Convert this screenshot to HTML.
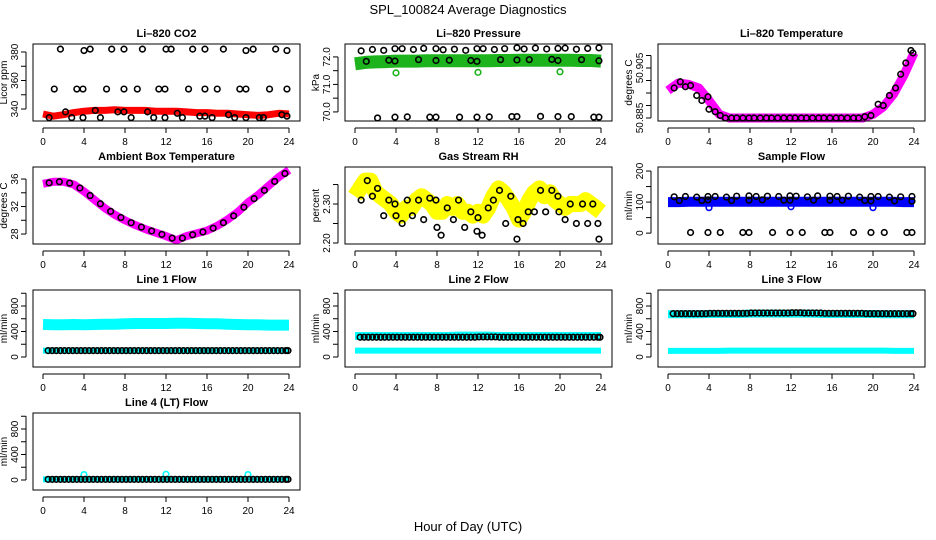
<!DOCTYPE html>
<html><head><meta charset="utf-8">
<style>
body{margin:0;background:#fff;}
svg{display:block;font-family:"Liberation Sans",sans-serif;}
</style></head>
<body>
<svg id="chart" width="936" height="540" viewBox="0 0 936 540">
<text x="468" y="14" text-anchor="middle" font-size="13">SPL_100824  Average Diagnostics</text>
<text x="468" y="531" text-anchor="middle" font-size="13">Hour of Day (UTC)</text>
</svg>
<script>
// ---- data ----
const xTicks = [0,4,8,12,16,20,24];
const hours = [0,1,2,3,4,5,6,7,8,9,10,11,12,13,14,15,16,17,18,19,20,21,22,23,24];
const halfHours = [0,0.5,1,1.5,2,2.5,3,3.5,4,4.5,5,5.5,6,6.5,7,7.5,8,8.5,9,9.5,10,10.5,11,11.5,12,12.5,13,13.5,14,14.5,15,15.5,16,16.5,17,17.5,18,18.5,19,19.5,20,20.5,21,21.5,22,22.5,23,23.5,24];
const flowT = [0.5,0.9,1.3,1.7,2.1,2.5,2.9,3.3,3.7,4.1,4.5,4.9,5.3,5.7,6.1,6.5,6.9,7.3,7.7,8.1,8.5,8.9,9.3,9.7,10.1,10.5,10.9,11.3,11.7,12.1,12.5,12.9,13.3,13.7,14.1,14.5,14.9,15.3,15.7,16.1,16.5,16.9,17.3,17.7,18.1,18.5,18.9,19.3,19.7,20.1,20.5,20.9,21.3,21.7,22.1,22.5,22.9,23.3,23.7,23.9];

const co2Band = [336.5,335,336,337.5,338.5,339,339,339.5,339,339,339,338.5,338.5,338.5,338,337.5,337.5,337,337,336.5,336,335.5,336,337,336.5];
const co2BlkX = [1.7,4,4.6,6.7,7.9,9.7,12,12.5,14.6,15.8,17.6,19.8,20.5,22.7,23.8,1.1,3.3,3.9,6.2,7.9,9.2,11.3,11.9,14.2,15.8,17,19.2,19.8,22.1,23.8,0.6,2.2,2.8,3.9,5.1,5.6,7.3,7.9,8.6,10.2,10.8,11.9,13.1,13.6,15.3,15.8,16.5,18.1,18.7,19.8,21.1,21.5,23.3,23.8];
const co2BlkY = [382,381,382,382,382,382,382,382,382,382,382,381,382,382,381,354,354,354,354,354,354,354,354,354,354,354,354,354,354,354,334,338,334,334,339,334,338,338,334,338,334,334,337,334,335,335,334,336,334,334,334,334,336,335];

const presBand = [71.75,71.8,71.82,71.83,71.85,71.85,71.85,71.86,71.86,71.86,71.86,71.86,71.86,71.86,71.87,71.87,71.88,71.88,71.88,71.88,71.88,71.88,71.87,71.87,71.85];
const presBlkX = [0.6,1.7,2.8,3.9,4.6,5.7,6.7,7.9,8.6,9.7,10.8,11.9,12.5,13.6,14.6,15.8,16.5,17.6,18.7,19.8,20.5,21.6,22.7,23.8,1.1,3.3,3.9,6.2,7.9,9.2,11.3,11.9,14.2,15.8,17,19.2,19.8,22.1,23.8,2.2,3.9,5.1,7.3,7.9,10.2,11.9,13.1,15.3,15.8,18.1,19.8,21.1,23.3,23.8];
const presBlkY = [72.22,72.27,72.24,72.3,72.3,72.27,72.31,72.3,72.26,72.28,72.24,72.3,72.3,72.27,72.3,72.33,72.29,72.32,72.29,72.31,72.32,72.28,72.31,72.33,71.84,71.88,71.85,71.9,71.87,71.88,71.87,71.84,71.9,71.89,71.9,71.91,71.87,71.9,71.86,69.78,69.81,69.82,69.81,69.81,69.81,69.81,69.82,69.83,69.83,69.84,69.83,69.83,69.81,69.81];
const presOutX = [4,12,20];
const presOutY = [71.42,71.44,71.46];

const tempBand = [50.896,50.899,50.8985,50.897,50.892,50.8865,50.885,50.885,50.885,50.885,50.885,50.885,50.885,50.885,50.885,50.885,50.885,50.885,50.885,50.885,50.8865,50.8895,50.8945,50.902,50.911];
const tempBlkX = [0.6,1.2,1.7,2.2,2.8,3.3,3.9,4.0,4.6,5.1,5.6,6.2,6.7,7.3,7.9,8.4,9.0,9.6,10.1,10.7,11.3,11.9,12.4,13.0,13.5,14.1,14.7,15.2,15.8,16.4,16.9,17.5,18.1,18.6,19.2,19.8,20.5,21.0,21.6,22.2,22.7,23.2,23.7,23.9];
const tempBlkY = [50.897,50.8995,50.8975,50.898,50.894,50.892,50.8935,50.8885,50.8875,50.886,50.885,50.885,50.885,50.885,50.885,50.885,50.885,50.885,50.885,50.885,50.885,50.885,50.885,50.885,50.885,50.885,50.885,50.885,50.885,50.885,50.885,50.885,50.885,50.885,50.8855,50.886,50.8905,50.890,50.894,50.897,50.9025,50.907,50.912,50.911];

const ambBand = [35.3,35.6,35.6,35.2,34.2,33,31.8,30.8,30,29.3,28.7,28.2,27.7,27.1,27.7,28.1,28.5,29.2,30.1,31.2,32.6,33.7,35,36.3,37.3];

const rhBand = [2.32,2.34,2.36,2.36,2.33,2.32,2.31,2.30,2.28,2.27,2.29,2.29,2.31,2.32,2.31,2.30,2.28,2.28,2.30,2.29,2.30,2.28,2.28,2.27,2.28,2.27,2.29,2.32,2.34,2.33,2.31,2.29,2.26,2.28,2.31,2.33,2.34,2.32,2.33,2.31,2.30,2.29,2.30,2.30,2.30,2.31,2.30,2.29,2.28];
const rhBlkX = [0.6,1.2,1.7,2.2,2.8,3.3,3.9,4.0,4.6,5.1,5.6,6.2,6.7,7.3,7.9,8.0,8.4,9.0,9.6,10.1,10.7,11.3,11.9,12.0,12.4,13.0,13.5,14.1,14.7,15.2,15.8,15.9,16.4,16.9,17.5,18.1,18.6,19.2,19.8,19.9,20.5,21.0,21.6,22.2,22.7,23.2,23.7,23.8];
const rhBlkY = [2.31,2.36,2.32,2.34,2.27,2.31,2.30,2.27,2.25,2.31,2.27,2.31,2.26,2.315,2.31,2.24,2.22,2.29,2.26,2.31,2.24,2.28,2.23,2.265,2.22,2.29,2.31,2.335,2.25,2.32,2.21,2.26,2.25,2.28,2.28,2.335,2.28,2.335,2.32,2.28,2.26,2.30,2.25,2.30,2.25,2.30,2.25,2.21];

const sampleBand = [100,100,101,101,101,101,101,101,101,101,101,101,101,101,101,101,101,101,101,101,101,101,101,100,100];
const sampleBlkX = [0.6,1.7,2.8,3.9,4.6,5.7,6.7,7.9,8.6,9.7,10.8,11.9,12.5,13.6,14.6,15.8,16.5,17.6,18.7,19.8,20.5,21.6,22.7,23.8,1.1,3.3,3.9,6.2,7.9,9.2,11.3,11.9,14.2,15.8,17,19.2,19.8,22.1,23.8,2.2,3.9,5.1,7.3,7.9,10.2,11.9,13.1,15.3,15.8,18.1,19.8,21.1,23.3,23.8];
const sampleBlkY = [117,118,116,118,118,116,119,120,118,119,118,120,119,117,120,119,118,119,116,118,118,116,117,118,105,105,107,105,106,107,106,106,106,106,106,105,104,104,103,2,2,2,2,2,2,2,2,2,2,2,2,2,2,2];
const sampleOutX = [4,12,20];
const sampleOutY = [82,85,82];

const line1Hi = [510,505,505,510,505,510,515,515,520,525,525,525,525,530,530,525,520,520,515,510,505,505,500,500,500];
const line1Lo = [100,100,100,100,100,100,100,100,100,100,100,100,100,100,100,100,100,100,100,100,100,100,100,100,100];
const line1Blk = [100,100,100,100,100,100,100,100,100,100,100,100,100,100,100,100,100,100,100,100,100,100,100,100,100];
const line2Hi = [330,330,330,330,330,330,330,330,330,330,335,335,335,335,330,330,330,330,330,330,330,330,330,330,330];
const line2Lo = [100,100,100,100,100,100,100,100,100,100,100,100,100,100,100,100,100,100,100,100,100,100,100,100,100];
const line2Blk = [310,310,310,310,310,310,310,310,310,310,310,310,315,315,310,310,310,310,310,310,310,310,310,310,310];
const line3Hi = [670,670,670,670,675,675,675,675,680,680,680,680,680,680,680,675,675,675,675,675,675,670,670,670,670];
const line3Lo = [95,95,95,95,95,95,100,100,100,100,100,100,100,100,100,100,100,100,100,100,100,100,95,95,95];
const line3Blk = [680,680,680,680,685,685,685,685,690,690,690,690,695,690,690,685,685,685,685,680,680,680,680,680,680];
const line4Band = [10,10,10,10,10,10,10,10,10,10,10,10,10,10,10,10,10,10,10,10,10,10,10,10,10];
const line4Blk = [10,10,10,10,10,10,10,10,10,10,10,10,10,10,10,10,10,10,10,10,10,10,10,10,10];
const line4OutX = [4,12,20];
const line4OutY = [85,90,85];

// ---- drawing ----
const svg = document.getElementById('chart');
const NS = 'http://www.w3.org/2000/svg';
function mk(tag, attrs, parent){
  const e = document.createElementNS(NS, tag);
  for (const k in attrs) e.setAttribute(k, attrs[k]);
  (parent||svg).appendChild(e);
  return e;
}
const W = 267, H = 77;
function panel(name, title, left, top, ymin, ymax, yticks, ylabels, ytitle){
  const g = mk('g', {});
  
  
  const p = {g, left, top,
    x: v => left + 10 + v * 246 / 24,
    y: v => top + H - (v - ymin) / (ymax - ymin) * H};
  const t = mk('text', {x: left + W/2, y: top - 7, 'text-anchor':'middle', 'font-size':11, 'font-weight':'bold'}, g);
  t.textContent = title;
  
  
  p.data = mk('g', {}, g);
  const box = mk('rect', {x:left, y:top, width:W, height:H, fill:'none', stroke:'#000', 'stroke-width':1}, g);
  
  
  const xa = mk('g', {}, g);
  
  
  const by = top + H + 7;
  mk('line', {x1:p.x(0), x2:p.x(24), y1:by, y2:by, stroke:'#000'}, xa);
  xTicks.forEach(v => {
    mk('line', {x1:p.x(v), x2:p.x(v), y1:by, y2:by+5, stroke:'#000'}, xa);
    const tl = mk('text', {x:p.x(v), y:by+17, 'text-anchor':'middle', 'font-size':10}, xa);
    tl.textContent = v;
  });
  const ya = mk('g', {}, g);
  
  
  const lx = left - 7;
  mk('line', {x1:lx, x2:lx, y1:p.y(yticks[0]), y2:p.y(yticks[yticks.length-1]), stroke:'#000'}, ya);
  yticks.forEach(v => mk('line', {x1:lx-5, x2:lx, y1:p.y(v), y2:p.y(v), stroke:'#000'}, ya));
  ylabels.forEach(l => {
    const yy = p.y(l[0]);
    const tl = mk('text', {x:lx-8, y:yy, 'text-anchor':'middle', 'font-size':10, transform:`rotate(-90 ${lx-8} ${yy})`}, ya);
    tl.textContent = l[1];
  });
  const cy = top + H/2, tx = left - 26;
  const yt = mk('text', {x:tx, y:cy, 'text-anchor':'middle', 'font-size':10, transform:`rotate(-90 ${tx} ${cy})`}, ya);
  yt.textContent = ytitle;
  
  
  return p;
}
function band(p, xs, ys, color, width, name){
  const d = xs.map((x,i) => (i?'L':'M') + p.x(x).toFixed(1) + ' ' + p.y(ys[i]).toFixed(1)).join(' ');
  const e = mk('path', {d, fill:'none', stroke:color, 'stroke-width':width, 'stroke-linejoin':'round', 'stroke-linecap':'butt'}, p.data);
  
  
}
function pts(p, xs, ys, color, name){
  const g = mk('g', {}, p.data);
  
  
  xs.forEach((x,i) => {
    const c = mk('circle', {cx:p.x(x), cy:p.y(ys[i]), r:2.8, fill:'none', stroke:color, 'stroke-width':1.6}, g);
    
    
  });
}
function stepVals(arr){ return flowT.map(t => arr[Math.floor(t)]); }

// Row 1
let p = panel('co2-panel','Li\u2013820 CO2',33,44,331.6,385.6,[340,350,360,370,380],[[340,'340'],[360,'360'],[380,'380']],'Licor ppm');
band(p, hours, co2Band, '#f00', 7, 'co2-series');
pts(p, co2BlkX, co2BlkY, '#000', 'co2-average-points');

p = panel('pressure-panel','Li\u2013820 Pressure',345,44,69.67,72.47,[70,70.5,71,71.5,72],[[70,'70.0'],[71,'71.0'],[72,'72.0']],'kPa');
band(p, hours, presBand, '#1db31d', 13, 'pressure-series');
pts(p, presOutX, presOutY, '#1db31d', 'pressure-outliers');
pts(p, presBlkX, presBlkY, '#000', 'pressure-average-points');

p = panel('li820-temp-panel','Li\u2013820 Temperature',658,44,50.8838,50.9146,[50.885,50.89,50.895,50.9,50.905,50.91],[[50.885,'50.885'],[50.905,'50.905']],'degrees C');
band(p, hours, tempBand, '#f0f', 9, 'li820-temp-series');
pts(p, tempBlkX, tempBlkY, '#000', 'li820-temp-average-points');

// Row 2
p = panel('ambient-temp-panel','Ambient Box Temperature',33,167,26.55,37.75,[28,30,32,34,36],[[28,'28'],[32,'32'],[36,'36']],'degrees C');
band(p, hours, ambBand, '#f0f', 8, 'ambient-temp-series');
pts(p, hours.slice(1).map(h=>h-0.4), ambBand.slice(1).map((v,i)=>(v+ambBand[i])/2), '#000', 'ambient-temp-average-points');

p = panel('rh-panel','Gas Stream RH',345,167,2.1974,2.395,[2.2,2.25,2.3,2.35],[[2.2,'2.20'],[2.3,'2.30']],'percent');
band(p, halfHours, rhBand, '#ff0', 16, 'rh-series');
pts(p, rhBlkX, rhBlkY, '#000', 'rh-average-points');

p = panel('sample-flow-panel','Sample Flow',658,167,-35,213,[0,50,100,150,200],[[0,'0'],[100,'100'],[200,'200']],'ml/min');
band(p, hours, sampleBand, '#00f', 10, 'sample-flow-series');
pts(p, sampleOutX, sampleOutY, '#00f', 'sample-flow-outliers');
pts(p, sampleBlkX, sampleBlkY, '#000', 'sample-flow-average-points');

// Row 3/4
const fTicks = [0,200,400,600,800,1000], fLabels = [[0,'0'],[400,'400'],[800,'800']];
p = panel('line1-flow-panel','Line 1 Flow',33,290,-157,1051,fTicks,fLabels,'ml/min');
band(p, hours, line1Hi, '#0ff', 11, 'line1-high-series');
band(p, hours, line1Lo, '#0ff', 6, 'line1-low-series');
pts(p, flowT, stepVals(line1Blk), '#000', 'line1-average-points');

p = panel('line2-flow-panel','Line 2 Flow',345,290,-157,1051,fTicks,fLabels,'ml/min');
band(p, hours, line2Hi, '#0ff', 8, 'line2-high-series');
band(p, hours, line2Lo, '#0ff', 6, 'line2-low-series');
pts(p, flowT, stepVals(line2Blk), '#000', 'line2-average-points');

p = panel('line3-flow-panel','Line 3 Flow',658,290,-157,1051,fTicks,fLabels,'ml/min');
band(p, hours, line3Hi, '#0ff', 8, 'line3-high-series');
band(p, hours, line3Lo, '#0ff', 6, 'line3-low-series');
pts(p, flowT, stepVals(line3Blk), '#000', 'line3-average-points');

p = panel('line4-flow-panel','Line 4 (LT) Flow',33,413,-157,1051,fTicks,fLabels,'ml/min');
band(p, hours, line4Band, '#0ff', 6, 'line4-series');
pts(p, line4OutX, line4OutY, '#0ff', 'line4-outliers');
pts(p, flowT, stepVals(line4Blk), '#000', 'line4-average-points');
</script>
</body></html>
